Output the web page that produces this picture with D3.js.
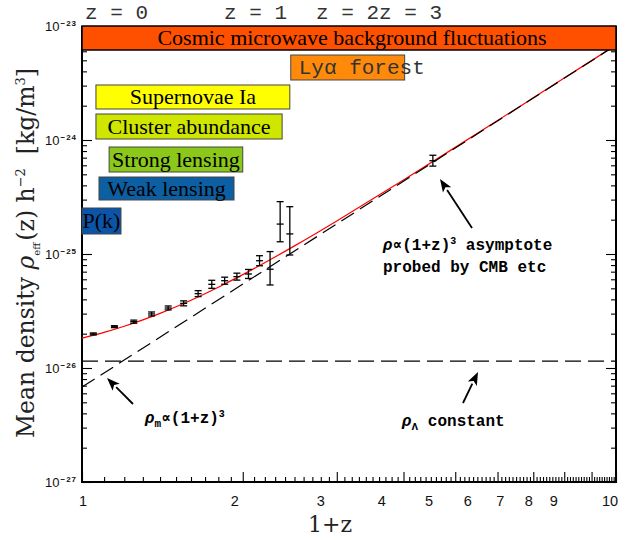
<!DOCTYPE html>
<html>
<head>
<meta charset="utf-8">
<script src="https://cdn.jsdelivr.net/npm/d3@7"></script>
<style>
  html, body { margin: 0; padding: 0; background: #fff; }
  svg { display: block; }
</style>
</head>
<body>
<svg id="chart" width="634" height="540"></svg>
<script>
// ---- data ---------------------------------------------------------------
// binned effective density measurements, rho_eff h^-2 in kg/m^3, vs 1+z
const binOnePlusZ = [1.05, 1.15, 1.25, 1.35, 1.45, 1.55, 1.65, 1.75, 1.85, 1.95, 2.05, 2.15, 2.25, 2.35, 2.45];
const binRho      = [1.99e-26, 2.30e-26, 2.55e-26, 2.98e-26, 3.36e-26, 3.69e-26, 4.49e-26, 5.42e-26, 5.83e-26, 6.33e-26, 6.68e-26, 8.73e-26, 7.35e-26, 1.83e-25, 1.50e-25];
const binRhoLo    = [1.95e-26, 2.26e-26, 2.47e-26, 2.86e-26, 3.23e-26, 3.51e-26, 4.23e-26, 5.00e-26, 5.43e-26, 5.90e-26, 6.10e-26, 7.89e-26, 5.35e-26, 1.28e-25, 9.80e-26];
const binRhoHi    = [2.03e-26, 2.35e-26, 2.63e-26, 3.10e-26, 3.50e-26, 3.88e-26, 4.77e-26, 5.88e-26, 6.26e-26, 6.79e-26, 7.32e-26, 9.66e-26, 1.05e-25, 2.88e-25, 2.60e-25];

// high-redshift point on the matter asymptote
const cmbOnePlusZ = [4.54];
const cmbRho      = [6.58e-25];
const cmbRhoLo    = [5.90e-25];
const cmbRhoHi    = [7.35e-25];

// total density rho_Lambda + rho_m (1+z)^3
const modelOnePlusZ = [1, 1.1, 1.2, 1.3, 1.4, 1.5, 1.6, 1.8, 2, 2.25, 2.5, 3, 3.5, 4, 5, 6, 7, 8, 9, 10];
const modelRho      = [1.83e-26, 2.055e-26, 2.325e-26, 2.644e-26, 3.016e-26, 3.445e-26, 3.935e-26, 5.116e-26, 6.59e-26, 8.90e-26, 1.178e-25, 1.951e-25, 3.031e-25, 4.467e-25, 8.615e-25, 1.480e-24, 2.344e-24, 3.493e-24, 4.969e-24, 6.812e-24];

// matter-only asymptote and constant vacuum density
const matterOnePlusZ = [1, 10];
const matterRho      = [6.8e-27, 6.8e-24];
const lambdaOnePlusZ = [1, 10];
const lambdaRho      = [1.15e-26, 1.15e-26];

// probes and the 1+z range each one covers
const probeNames = ["Cosmic microwave background fluctuations", "Ly\u03b1 forest", "Supernovae Ia", "Cluster abundance", "Strong lensing", "Weak lensing", "P(k)"];
const probeFrom  = [1, 2.46, 1.062, 1.062, 1.124, 1.076, 1];
const probeTo    = [10, 4.02, 2.45, 2.37, 2.0, 1.926, 1.183];

// axis ticks
const xTickValues = [1, 2, 3, 4, 5, 6, 7, 8, 9, 10];
const xTickLabels = ["1", "2", "3", "4", "5", "6", "7", "8", "9", "10"];
const yTickExponents = [-27, -26, -25, -24, -23];
const redshiftMarks = ["z = 0", "z = 1", "z = 2", "z = 3"];

// ---- layout -------------------------------------------------------------
const plot = { left: 82, right: 616, top: 26, bottom: 482 };
const probeRows = [[26, 50], [55, 80], [85, 109], [114, 139], [147, 172], [177, 200], [208, 234]];
const probeFill = ["#ff5000", "#ff8a0a", "#ffff00", "#cfe600", "#8cc81a", "#0d5fa3", "#0b55a8"];
const markX = [85, 224, 316, 379];

const svg = d3.select("#chart");

const x = d3.scaleLog().domain([1, 10]).range([plot.left, plot.right]);
const y = d3.scaleLog().domain([1e-27, 1e-23]).range([plot.bottom, plot.top]);
// tick numbers sit on their own, slightly compressed log spacing
const xLabelPos = d3.scaleLog().domain([1, 10]).range([88, 576]);

// ---- axes (ticks point inward) ------------------------------------------
const xMinor = d3.range(11, 100).filter(v => v % 10 !== 0).map(v => v / 10);
const yMajor = yTickExponents.map(e => Math.pow(10, e));
const yMinor = [];
for (let e = -27; e < -23; e++) for (let m = 2; m <= 9; m++) yMinor.push(m * Math.pow(10, e));

function clean(g) {
  g.select(".domain").remove();
  g.selectAll("text").remove();
  g.selectAll("line").attr("stroke", "#000").attr("stroke-width", 1.1);
}

svg.append("g").attr("transform", `translate(0,${plot.bottom})`)
  .call(d3.axisBottom(x).tickValues(xMinor).tickSize(-5)).call(clean);
svg.append("g").attr("transform", `translate(0,${plot.bottom})`)
  .call(d3.axisBottom(x).tickValues(xTickValues).tickSize(-10)).call(clean);
svg.append("g").attr("transform", `translate(${plot.left},0)`)
  .call(d3.axisLeft(y).tickValues(yMinor).tickSize(-5)).call(clean);
svg.append("g").attr("transform", `translate(${plot.left},0)`)
  .call(d3.axisLeft(y).tickValues(yMajor).tickSize(-10)).call(clean);
svg.append("g").attr("transform", `translate(${plot.right},0)`)
  .call(d3.axisRight(y).tickValues(yMinor).tickSize(-5)).call(clean);
svg.append("g").attr("transform", `translate(${plot.right},0)`)
  .call(d3.axisRight(y).tickValues(yMajor).tickSize(-10)).call(clean);

// frame
svg.append("path")
  .attr("d", `M${plot.left},${plot.top}V${plot.bottom}H${plot.right}V${plot.top}`)
  .attr("fill", "none").attr("stroke", "#000").attr("stroke-width", 2);

// x tick labels
svg.append("g").selectAll("text").data(xTickValues).join("text")
  .attr("x", (d, i) => i === 0 ? x(d) + 1 : (i === xTickValues.length - 1 ? x(d) - 6 : xLabelPos(d)))
  .attr("y", 506)
  .attr("text-anchor", "middle")
  .attr("font-family", "Liberation Sans, Arial, sans-serif")
  .attr("font-size", 14.5)
  .attr("fill", "#111")
  .text((d, i) => xTickLabels[i]);

// y tick labels 10^n
const yl = svg.append("g").selectAll("text").data(yTickExponents).join("text")
  .attr("x", 45)
  .attr("y", d => y(Math.pow(10, d)) + 4.5)
  .attr("font-family", "Liberation Sans, Arial, sans-serif")
  .attr("font-size", 13)
  .attr("fill", "#111");
yl.append("tspan").text("10");
yl.append("tspan").attr("dy", -5).attr("dx", 1).attr("font-size", 8).attr("font-weight", "bold")
  .attr("letter-spacing", 1).text(d => "\u2212" + Math.abs(d));

// axis titles
svg.append("text")
  .attr("x", 330).attr("y", 532)
  .attr("text-anchor", "middle")
  .attr("font-family", "DejaVu Serif, serif")
  .attr("font-size", 22)
  .attr("fill", "#222")
  .text("1+z");

const yt = svg.append("text")
  .attr("transform", "translate(34,253) rotate(-90)")
  .attr("text-anchor", "middle")
  .attr("font-family", "DejaVu Serif, serif")
  .attr("font-size", 23.5)
  .attr("fill", "#222");
yt.append("tspan").text("Mean density ");
yt.append("tspan").attr("font-style", "italic").text("\u03c1");
yt.append("tspan").attr("font-size", 10).attr("dy", 6).text("eff");
yt.append("tspan").attr("dy", -6).attr("dx", 2).text("(z) h");
yt.append("tspan").attr("font-size", 13).attr("dy", -9).text("\u22122");
yt.append("tspan").attr("dy", 9).attr("dx", 14).text("[kg/m");
yt.append("tspan").attr("font-size", 13).attr("dy", -9).text("3");
yt.append("tspan").attr("dy", 9).text("]");

// ---- curves ---------------------------------------------------------------
const line = d3.line().x(d => x(d[0])).y(d => y(d[1])).curve(d3.curveMonotoneX);

svg.append("path")
  .attr("d", line(d3.zip(modelOnePlusZ, modelRho)))
  .attr("fill", "none").attr("stroke", "#ff0000").attr("stroke-width", 1.2);

svg.append("path")
  .attr("d", line(d3.zip(matterOnePlusZ, matterRho)))
  .attr("fill", "none").attr("stroke", "#000").attr("stroke-width", 1.2)
  .attr("stroke-dasharray", "15,7");

svg.append("path")
  .attr("d", line(d3.zip(lambdaOnePlusZ, lambdaRho)))
  .attr("fill", "none").attr("stroke", "#000").attr("stroke-width", 1.2)
  .attr("stroke-dasharray", "16,7");

// ---- error bars -----------------------------------------------------------
function errorBars(xs, vs, los, his) {
  const g = svg.append("g").attr("stroke", "#000").attr("stroke-width", 1.3);
  xs.forEach((xv, i) => {
    const cx = x(xv);
    g.append("line").attr("x1", cx).attr("x2", cx).attr("y1", y(los[i])).attr("y2", y(his[i]));
    [los[i], vs[i], his[i]].forEach(v => {
      g.append("line").attr("x1", cx - 3.5).attr("x2", cx + 3.5).attr("y1", y(v)).attr("y2", y(v));
    });
  });
}
errorBars(binOnePlusZ, binRho, binRhoLo, binRhoHi);
errorBars(cmbOnePlusZ, cmbRho, cmbRhoLo, cmbRhoHi);

// ---- probe boxes ----------------------------------------------------------
probeNames.forEach((name, i) => {
  const x0 = x(probeFrom[i]), x1 = x(probeTo[i]);
  const [t, b] = probeRows[i];
  svg.append("rect")
    .attr("x", x0).attr("y", t).attr("width", x1 - x0).attr("height", b - t)
    .attr("fill", probeFill[i]).attr("stroke", i === 0 ? "#000" : "#444").attr("stroke-width", i === 0 ? 1.5 : 1);
  if (i === 1) {
    svg.append("text")
      .attr("x", x0 + 8).attr("y", b - 6)
      .attr("font-family", "Liberation Mono, Courier New, monospace")
      .attr("font-size", 21).attr("fill", "#333")
      .text(name);
  } else {
    svg.append("text")
      .attr("x", (x0 + x1) / 2 + (i === 0 ? 3 : 0)).attr("y", (t + b) / 2 + 7)
      .attr("text-anchor", "middle")
      .attr("font-family", "Liberation Serif, Times New Roman, serif")
      .attr("font-size", 22).attr("fill", "#000")
      .text(name);
  }
});

// redshift marks along the top
svg.append("g").selectAll("text").data(redshiftMarks).join("text")
  .attr("x", (d, i) => markX[i]).attr("y", 19)
  .attr("font-family", "Liberation Mono, Courier New, monospace")
  .attr("font-size", 21).attr("fill", "#333")
  .text(d => d);

// ---- annotations ----------------------------------------------------------
function arrow(x1, y1, x2, y2) {
  const ang = Math.atan2(y2 - y1, x2 - x1), L = 13, W = 5;
  const bx = x2 - L * Math.cos(ang), by = y2 - L * Math.sin(ang);
  svg.append("line").attr("x1", x1).attr("y1", y1).attr("x2", bx).attr("y2", by)
    .attr("stroke", "#000").attr("stroke-width", 1.8);
  const px = -Math.sin(ang) * W, py = Math.cos(ang) * W;
  svg.append("path")
    .attr("d", `M${x2},${y2}L${bx + px},${by + py}L${bx + 3 * Math.cos(ang)},${by + 3 * Math.sin(ang)}L${bx - px},${by - py}Z`)
    .attr("fill", "#000");
}
arrow(472, 228, 440, 179);
arrow(133, 404, 107, 378);
arrow(463, 403, 478, 372);

function note(xp, yp) {
  return svg.append("text").attr("x", xp).attr("y", yp)
    .attr("font-family", "Liberation Mono, Courier New, monospace")
    .attr("font-weight", "bold").attr("font-size", 16).attr("fill", "#000");
}
const n1 = note(383, 250);
n1.append("tspan").attr("font-style", "italic").text("\u03c1");
n1.append("tspan").text("\u221d(1+z)");
n1.append("tspan").attr("font-size", 10).attr("dy", -6).text("3");
n1.append("tspan").attr("dy", 6).text(" asymptote");
note(383, 272).text("probed by CMB etc");

const n2 = note(145, 423);
n2.append("tspan").attr("font-style", "italic").text("\u03c1");
n2.append("tspan").attr("font-size", 11).attr("dy", 4).text("m");
n2.append("tspan").attr("dy", -4).text("\u221d(1+z)");
n2.append("tspan").attr("font-size", 10).attr("dy", -6).text("3");

const n3 = note(402, 426);
n3.append("tspan").attr("font-style", "italic").text("\u03c1");
n3.append("tspan").attr("font-size", 11).attr("dy", 4).text("\u039b");
n3.append("tspan").attr("dy", -4).text(" constant");
</script>
</body>
</html>
